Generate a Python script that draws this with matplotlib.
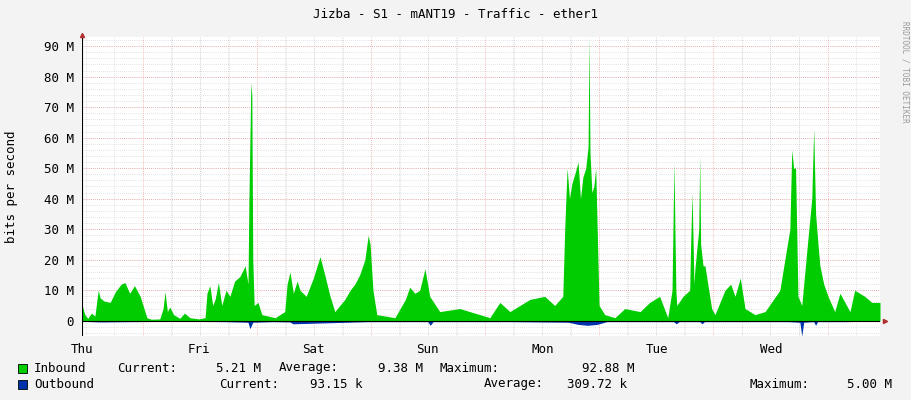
import matplotlib
matplotlib.use("Agg")
import matplotlib.pyplot as plt
import numpy as np
from matplotlib.patches import Rectangle

plt.rcParams["font.family"] = "DejaVu Sans Mono"

# (hours since graph start, inbound Mbit/s)
inbound_points = [
    (0, 5.2), (0.6, 2.0), (1.2, 0.8), (2.0, 2.5), (2.7, 1.5), (3.4, 10.0), (3.8, 7.5),
    (4.6, 6.5), (5.9, 6.0), (7.0, 9.5), (8.2, 12.0), (9.0, 12.5), (10.0, 9.0), (11.0, 11.5),
    (12.2, 8.0), (12.8, 5.0), (13.6, 1.0), (14.5, 0.5), (16.3, 0.6), (17.0, 4.0), (17.4, 9.5),
    (17.9, 3.0), (18.4, 4.5), (19.2, 2.0), (20.5, 0.8), (21.5, 2.5), (22.6, 1.0), (24.5, 0.6),
    (25.8, 1.0), (26.2, 9.0), (26.8, 11.5), (27.4, 5.0), (27.9, 7.0), (28.6, 12.5), (29.3, 5.0),
    (30.2, 10.0), (31.0, 8.0), (32.0, 13.0), (33.1, 14.5), (34.2, 18.0), (34.8, 12.0),
    (35.0, 40.0), (35.4, 78.0), (35.6, 74.0), (35.8, 20.0), (36.1, 5.0), (36.9, 6.0),
    (37.7, 2.0), (40.5, 1.0), (42.5, 3.0), (43.0, 12.0), (43.6, 16.0), (44.3, 9.0),
    (45.1, 13.0), (45.7, 10.0), (47.0, 8.0), (48.5, 14.0), (49.9, 21.0), (50.9, 15.0),
    (52.0, 8.0), (53.0, 3.0), (55.1, 7.0), (56.2, 10.0), (57.2, 12.0), (58.2, 15.0),
    (59.3, 20.0), (60.0, 28.0), (60.4, 25.0), (61.0, 10.0), (61.8, 2.0), (65.6, 1.0),
    (66.7, 4.0), (67.8, 7.0), (68.7, 11.0), (69.8, 9.0), (70.8, 10.0), (71.9, 17.0),
    (72.9, 8.0), (75.0, 3.0), (79.2, 4.0), (83.4, 2.0), (85.5, 1.0), (87.6, 6.0),
    (89.7, 3.0), (93.9, 7.0), (97.0, 8.0), (99.1, 5.0), (100.8, 8.0), (101.2, 30.0),
    (101.7, 50.0), (102.2, 40.0), (102.7, 45.0), (103.3, 48.0), (104.0, 52.0), (104.5, 40.0),
    (105.0, 47.0), (105.6, 50.0), (106.1, 57.0), (106.3, 93.0), (106.5, 55.0), (106.9, 42.0),
    (107.3, 44.0), (107.7, 50.0), (108.4, 5.0), (109.6, 2.0), (111.7, 1.0), (113.8, 4.0),
    (117.0, 3.0), (119.0, 6.0), (121.1, 8.0), (122.8, 1.0), (123.7, 10.0), (124.1, 52.0),
    (124.5, 10.0), (124.7, 5.0), (126.0, 8.0), (127.4, 10.0), (127.6, 25.0), (127.9, 42.0),
    (128.3, 12.0), (128.5, 17.0), (129.3, 30.0), (129.5, 54.0), (129.7, 25.0), (130.2, 18.0),
    (130.6, 18.0), (132.0, 4.0), (132.7, 2.0), (134.8, 10.0), (136.0, 12.0), (136.9, 8.0),
    (138.0, 14.0), (139.0, 4.0), (141.1, 2.0), (143.2, 3.0), (146.3, 10.0), (148.4, 30.0),
    (148.8, 56.0), (149.2, 50.0), (149.6, 50.0), (150.1, 8.0), (150.9, 5.0), (152.2, 27.0),
    (153.0, 40.0), (153.4, 63.0), (153.8, 35.0), (154.3, 25.0), (154.7, 18.0), (155.5, 12.0),
    (156.4, 8.0), (157.8, 3.0), (158.9, 9.0), (161.0, 3.0), (162.0, 10.0), (164.1, 8.0),
    (165.6, 6.0), (167.3, 6.0),
]
# (hours, outbound Mbit/s) drawn mirrored below zero
outbound_points = [
    (0, 0.2), (4, 0.4), (10, 0.3), (20, 0.2), (30, 0.3), (34.8, 0.5), (35.2, 2.6), (35.8, 0.5),
    (40, 0.3), (43.6, 0.4), (44.2, 1.0), (60, 0.3), (72.5, 0.3), (73.0, 1.5), (73.6, 0.3),
    (90, 0.3), (102, 0.5), (104, 1.2), (106, 1.5), (108, 1.2), (110, 0.3), (124, 0.3),
    (124.6, 1.0), (125.2, 0.3), (129.5, 0.3), (130.0, 1.0), (130.5, 0.3), (148, 0.3),
    (150.5, 0.5), (150.9, 5.0), (151.3, 0.5), (153.4, 0.3), (153.8, 1.5), (154.2, 0.3),
    (160, 0.3), (167.3, 0.1),
]
in_hours = [p[0] for p in inbound_points]
inbound = [p[1] for p in inbound_points]
out_hours = [p[0] for p in outbound_points]
outbound = [p[1] for p in outbound_points]

day_names = ["Thu", "Fri", "Sat", "Sun", "Mon", "Tue", "Wed"]
label_hours = [0.0, 24.5, 48.6, 72.5, 96.6, 120.5, 144.6]
midnight_hours = [12.8, 36.7, 60.6, 84.5, 108.4, 132.3, 156.3]
XMAX = 167.3

# legend rows: (text, x px, alignment)
legend_in = [("Inbound", 34, "left"), ("Current:", 117, "left"), ("5.21 M", 261, "right"),
             ("Average:", 279, "left"), ("9.38 M", 423, "right"),
             ("Maximum:", 440, "left"), ("92.88 M", 634, "right")]
legend_out = [("Outbound", 34, "left"), ("Current:", 219, "left"), ("93.15 k", 362, "right"),
              ("Average:", 484, "left"), ("309.72 k", 627, "right"),
              ("Maximum:", 749, "left"), ("5.00 M", 892, "right")]

fig = plt.figure(figsize=(9.11, 4.0), dpi=100, facecolor="#f3f3f3")
ax = fig.add_axes([82 / 911, 64 / 400, 798 / 911, 299 / 400])
ax.set_facecolor("white")

ax.fill_between(in_hours, 0, inbound, color="#00cc00", lw=0, zorder=3)
ax.fill_between(out_hours, 0, -np.array(outbound), color="#0033aa", lw=0, zorder=3)

ax.set_xlim(0, XMAX)
ax.set_ylim(-5, 93)

# grid: minor grey every 2 M / 6 h, major red every 10 M / midnight
dot = (0, (1, 2))
for y in np.arange(-4, 93, 2):
    ax.axhline(y, color="#c8c8c8", lw=0.5, ls=dot, zorder=1)
for y in np.arange(10, 93, 10):
    ax.axhline(y, color="#f08080", lw=0.5, ls=dot, zorder=2)
for m in midnight_hours:
    for k in (-18, -12, -6, 6, 12, 18):
        if 0 < m + k < XMAX:
            ax.axvline(m + k, color="#c8c8c8", lw=0.5, ls=dot, zorder=1)
    ax.axvline(m, color="#f08080", lw=0.5, ls=dot, zorder=2)

ax.axhline(0, color="black", lw=0.8, zorder=4)
ax.axvline(0, color="black", lw=0.8, zorder=4)
for s in ax.spines.values():
    s.set_visible(False)
ax.plot([XMAX + 1], [0], marker=">", color="#b03030", ms=3, clip_on=False, zorder=5)
ax.plot([0], [93.5], marker="^", color="#b03030", ms=3, clip_on=False, zorder=5)

ax.set_yticks(np.arange(0, 91, 10))
ax.set_yticklabels(["0"] + [f"{v} M" for v in range(10, 91, 10)])
ax.set_xticks(label_hours)
ax.set_xticklabels(day_names)
ax.tick_params(length=0, labelsize=9, pad=6)
ax.tick_params(axis="x", pad=5)
ax.set_ylabel("bits per second", fontsize=9)
ax.yaxis.set_label_coords(-0.08, 0.5)

fig.text(0.5, 0.965, "Jizba - S1 - mANT19 - Traffic - ether1", ha="center", va="center", fontsize=9)
fig.text(0.9935, 0.82, "RRDTOOL / TOBI OETIKER", rotation=270, ha="center", va="center",
         fontsize=5.5, color="#999999")

for y_px, color, row in ((368, "#00cc00", legend_in), (384, "#0033aa", legend_out)):
    fig.patches.append(Rectangle((18 / 911, 1 - (y_px + 5) / 400), 9 / 911, 9 / 400,
                                 transform=fig.transFigure, facecolor=color,
                                 edgecolor="black", lw=0.6))
    for text, x_px, align in row:
        fig.text(x_px / 911, 1 - y_px / 400, text, ha=align, va="center", fontsize=9)

fig.savefig("out.png", dpi=100, facecolor=fig.get_facecolor())
